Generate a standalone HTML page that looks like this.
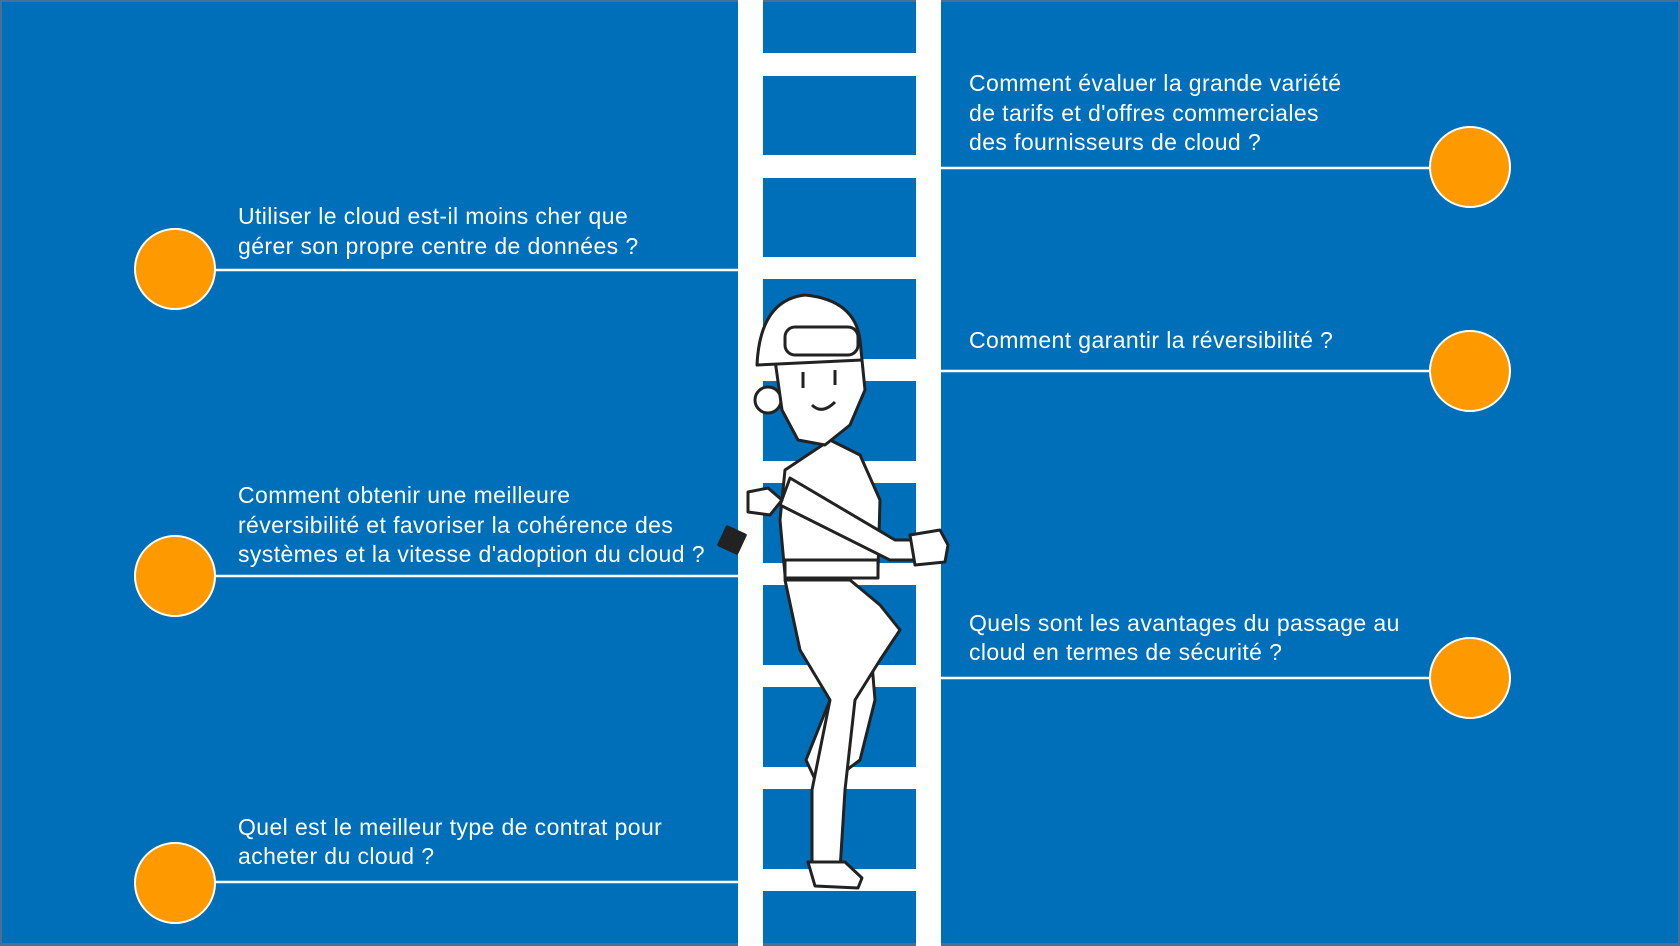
<!DOCTYPE html>
<html><head><meta charset="utf-8"><style>
html,body{margin:0;padding:0;background:#47709a;}
svg{display:block}
text{font-family:"Liberation Sans",sans-serif;font-size:23px;letter-spacing:0.4px;fill:#fff}
</style></head><body>
<svg width="1680" height="946" viewBox="0 0 1680 946" xmlns="http://www.w3.org/2000/svg">
<rect x="0" y="0" width="1680" height="946" fill="#4a6f92"/>
<rect x="2" y="2" width="1676" height="941" fill="#006fba"/>
<!-- ladder -->
<rect x="738" y="0" width="25" height="946" fill="#fff"/>
<rect x="916" y="0" width="25" height="946" fill="#fff"/>
<g fill="#fff">
<rect x="763" y="53" width="153" height="23"/>
<rect x="763" y="155" width="153" height="23"/>
<rect x="763" y="257" width="153" height="22"/>
<rect x="763" y="359" width="153" height="22"/>
<rect x="763" y="461" width="153" height="22"/>
<rect x="763" y="563" width="153" height="22"/>
<rect x="763" y="665" width="153" height="22"/>
<rect x="763" y="767" width="153" height="22"/>
<rect x="763" y="869" width="153" height="22"/>
</g>
<!-- lines -->
<g stroke="#fff" stroke-width="2.5">
<line x1="215" y1="270" x2="738" y2="270"/>
<line x1="215" y1="576" x2="738" y2="576"/>
<line x1="215" y1="882" x2="738" y2="882"/>
<line x1="941" y1="168" x2="1430" y2="168"/>
<line x1="941" y1="371" x2="1430" y2="371"/>
<line x1="941" y1="678" x2="1430" y2="678"/>
</g>
<g fill="#ff9900" stroke="#fff" stroke-width="2">
<circle cx="175" cy="269" r="40"/>
<circle cx="175" cy="576" r="40"/>
<circle cx="175" cy="883" r="40"/>
<circle cx="1470" cy="167" r="40"/>
<circle cx="1470" cy="371" r="40"/>
<circle cx="1470" cy="678" r="40"/>
</g>
<!-- texts -->
<text x="969" y="91">Comment évaluer la grande variété</text>
<text x="969" y="121">de tarifs et d'offres commerciales</text>
<text x="969" y="150">des fournisseurs de cloud ?</text>
<text x="238" y="224">Utiliser le cloud est-il moins cher que</text>
<text x="238" y="254">gérer son propre centre de données ?</text>
<text x="969" y="348">Comment garantir la réversibilité ?</text>
<text x="238" y="503">Comment obtenir une meilleure</text>
<text x="238" y="533">réversibilité et favoriser la cohérence des</text>
<text x="238" y="562">systèmes et la vitesse d'adoption du cloud ?</text>
<text x="969" y="631">Quels sont les avantages du passage au</text>
<text x="969" y="660">cloud en termes de sécurité ?</text>
<text x="238" y="835">Quel est le meilleur type de contrat pour</text>
<text x="238" y="864">acheter du cloud ?</text>
<!-- worker -->
<g fill="#fff" stroke="#222" stroke-width="3" stroke-linejoin="round">
<path d="M800 585 L845 590 L870 640 L875 700 L860 760 L820 790 L806 760 L830 700 L810 640 Z"/>
<path d="M785 580 L850 580 L880 605 L900 630 L880 660 L855 700 L845 790 L840 870 L812 870 L812 790 L830 700 L800 650 Z"/>
<path d="M808 862 L845 862 L862 878 L858 888 L815 886 Z"/>
<path d="M785 470 L830 440 L860 455 L880 500 L878 570 L785 575 L780 520 Z"/>
<rect x="785" y="560" width="93" height="18"/>
<path d="M790 478 L895 540 L915 540 L915 560 L890 560 L780 505 Z"/>
<path d="M910 535 L940 530 L948 545 L945 562 L915 565 Z"/>
<rect x="722" y="530" width="20" height="20" fill="#222" transform="rotate(25 732 540)"/>
<path d="M748 492 L768 488 L782 500 L770 515 L748 512 Z"/>
<circle cx="768" cy="400" r="13"/>
<path d="M775 360 L862 360 L865 390 L850 425 L825 445 L798 440 L782 410 Z"/>
<path d="M757 365 Q760 300 805 295 Q855 300 860 340 L862 360 Z"/>
<rect x="785" y="327" width="73" height="28" rx="10"/>
</g>
<g fill="none" stroke="#222" stroke-width="3">
<path d="M812 405 Q822 415 835 402"/>
<line x1="803" y1="372" x2="803" y2="388"/>
<line x1="835" y1="370" x2="835" y2="385"/>
</g>
</svg>
</body></html>
